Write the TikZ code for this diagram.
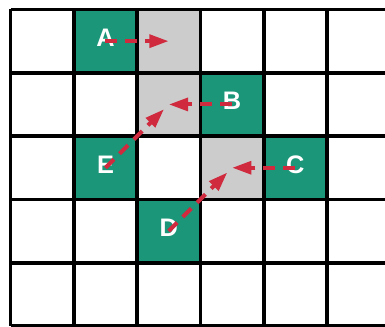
\documentclass[tikz,border=0pt]{standalone}
\usepackage{fontspec}
\setmainfont{Liberation Sans}
\usetikzlibrary{arrows.meta}
\definecolor{cellteal}{HTML}{1B9679}
\definecolor{cellgray}{HTML}{CCCCCC}
\definecolor{arrred}{HTML}{CF2A3D}
\begin{document}
\begin{tikzpicture}[x=0.75pt,y=-0.75pt,
  cellbox/.style={minimum size=47.475pt,inner sep=0pt,outer sep=0pt},
  greencell/.style={cellbox,fill=cellteal},
  graycell/.style={cellbox,fill=cellgray},
  lbl/.style={text=white,font=\bfseries\fontsize{19}{19}\selectfont,inner sep=0pt},
  arr/.style={draw=arrred,line width=3pt,dash pattern=on 9pt off 6pt,
    -{Triangle[length=14.5pt,width=9.5pt]}},
  gridline/.style={line width=2.8pt,black}]
\useasboundingbox (0,0) rectangle (385,327);
\clip (0,0) rectangle (385,327);
% cell centers: x = 10.5+63.3*i+31.65, y = 9.5+63.3*j+31.65
\node[greencell] (cA) at (105.45,41.15) {};
\node[graycell]  (g1) at (168.75,41.15) {};
\node[graycell]  (g2) at (168.75,104.45) {};
\node[greencell] (cB) at (232.05,104.45) {};
\node[greencell] (cE) at (105.45,167.75) {};
\node[graycell]  (g3) at (232.05,167.75) {};
\node[greencell] (cC) at (295.35,167.75) {};
\node[greencell] (cD) at (168.75,231.05) {};
% grid
\foreach \i in {0,...,6}
  \draw[gridline] ({10.5+63.3*\i},9.5) -- ({10.5+63.3*\i},326);
\foreach \j in {0,...,5}
  \draw[gridline] (10.5,{9.5+63.3*\j}) -- (400,{9.5+63.3*\j});
% labels
\node[lbl] (A) at (105.45,37.8) {A};
\node[lbl] (B) at (232.05,101.1) {B};
\node[lbl] (E) at (105.45,164.4) {E};
\node[lbl] (C) at (295.35,164.4) {C};
\node[lbl] (D) at (168.75,227.7) {D};
% arrows
\draw[arr] (cA.center) -- (g1.center);
\draw[arr] (cB.center) -- (g2.center);
\draw[arr,shorten >=5pt] (cE.center) -- (g2.center);
\draw[arr] (cC.center) -- (g3.center);
\draw[arr,shorten >=5pt] (cD.center) -- (g3.center);
\end{tikzpicture}
\end{document}
